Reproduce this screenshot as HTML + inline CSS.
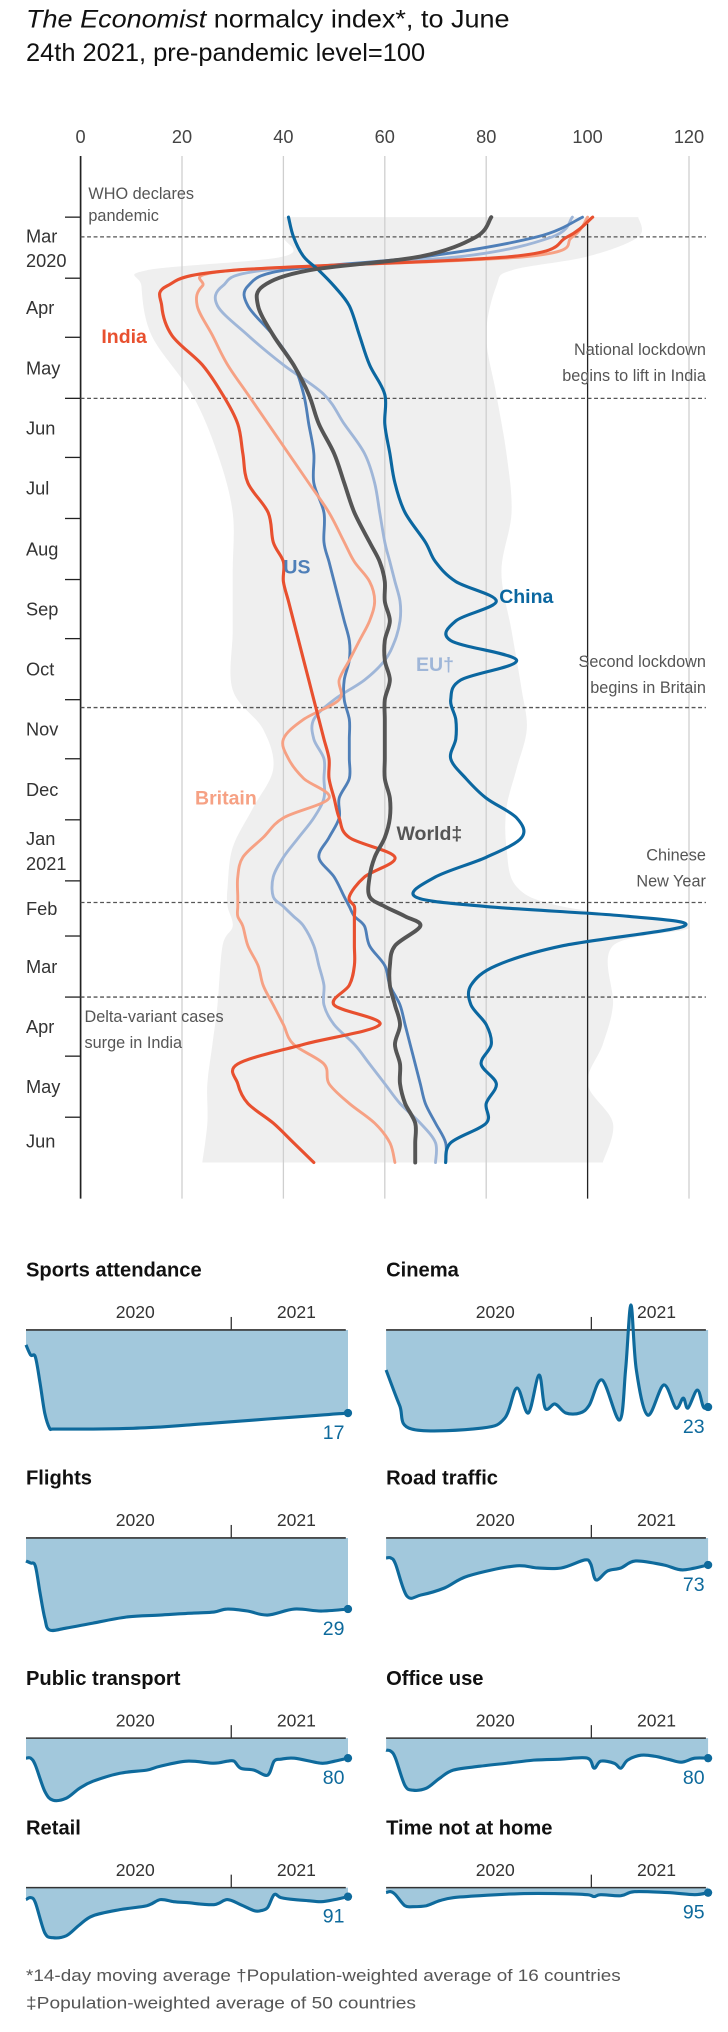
<!DOCTYPE html>
<html><head><meta charset="utf-8"><style>
html,body{margin:0;padding:0;background:#fff;}
svg{display:block;font-family:"Liberation Sans",sans-serif;}
</style></head><body>
<svg id="c" width="728" height="2032" viewBox="0 0 560 1563" xmlns="http://www.w3.org/2000/svg">
<g font-size="19.5" fill="#111">
<text x="20" y="21" textLength="372" lengthAdjust="spacingAndGlyphs"><tspan font-style="italic">The Economist</tspan> normalcy index*, to June</text>
<text x="20" y="47" textLength="307" lengthAdjust="spacingAndGlyphs">24th 2021, pre-pandemic level=100</text>
</g>
<g id="main"></g>
<g id="small"></g>
<g font-size="12.5" fill="#555">
<text x="20" y="1524" textLength="610" lengthAdjust="spacingAndGlyphs" transform="scale(0.75,1) translate(6.7,0)">*14-day moving average †Population-weighted average of 16 countries</text>
<text x="20" y="1545" textLength="400" lengthAdjust="spacingAndGlyphs" transform="scale(0.75,1) translate(6.7,0)">‡Population-weighted average of 50 countries</text>
</g>
</svg>
<script>
// ---- main chart data (days since Mar 1 2020) ----
const days=[0,10,20,27,35,45,60,75,90,105,120,135,150,165,175,185,195,205,215,225,235,245,255,265,275,285,295,305,315,325,335,345,350,355,360,370,380,390,400,410,420,430,440,450,460,470,480];
const china=[41,42,44,47,50,53,55,57,60,60,61,62,64,68,70,74,82,74,73,86,75,73,74,74,73,76,80,86,87,80,70,66,80,108,119,95,82,77,77,80,81,79,82,80,80,73,72];
const world=[81,78,67,45,36,35,38,42,45,47,50,52,54,57,59,60,60,61,60,60,61,60,60,60,60,60,61,61,60,58,57,57,60,64,67,62,61,61,62,63,62,63,63,64,66,66,66];
const india=[101,96,85,30,17,16,18,24,28,31,32,33,37,38,40,40,41,42,43,44,45,46,47,48,49,49,50,51,53,62,56,53,54,54,54,54,54,53,50,59,44,31,31,33,38,42,46];
const britain=[100,97,88,30,24,23,26,29,33,37,41,45,49,52,54,57,58,57,55,53,51,51,44,40,41,44,49,40,36,32,31,31,31,31,32,33,35,36,38,40,42,48,49,53,58,61,62];
const us=[99,90,68,40,33,33,38,42,44,45,46,46,48,48,49,50,51,52,53,53,52,52,53,53,53,53,51,51,49,47,50,52,53,54,56,57,60,61,63,64,65,66,67,68,70,72,72];
const eu=[97,93,75,36,28,27,33,40,48,52,56,58,59,60,61,62,63,63,62,60,56,50,46,46,48,48,48,46,43,40,38,38,40,42,44,46,47,48,48,50,54,57,60,63,67,70,70];
const bandDays=[0,10,20,27,35,60,90,120,150,180,210,240,260,280,300,320,340,350,360,370,400,420,440,460,480];
const bandLow=[40,40,40,13,12,14,22,27,30,30,30,30,36,38,34,30,29,29,30,28,27,26,25,25,24];
const bandHigh=[110,110,100,85,82,80,82,84,85,83,85,87,88,86,84,84,86,95,120,105,105,103,100,105,103];
const xTicks=[0,20,40,60,80,100,120];
const months=["Mar","Apr","May","Jun","Jul","Aug","Sep","Oct","Nov","Dec","Jan","Feb","Mar","Apr","May","Jun"];
const monthStart=[0,31,61,92,122,153,184,214,245,275,306,337,365,396,426,457];
const eventDays=[10,92,249,348,396];

const NS="http://www.w3.org/2000/svg";
function X(v){return 62+v*3.9;}
function Y(d){return 167+d*1.515;}
function mk(tag,parent,attrs){const e=document.createElementNS(NS,tag);for(const k in attrs)e.setAttribute(k,attrs[k]);parent.appendChild(e);return e;}
function smooth(pts){
 let p="M"+pts[0][0].toFixed(1)+","+pts[0][1].toFixed(1);
 for(let i=0;i<pts.length-1;i++){
  const p0=pts[Math.max(0,i-1)],p1=pts[i],p2=pts[i+1],p3=pts[Math.min(pts.length-1,i+2)];
  const c1=[p1[0]+(p2[0]-p0[0])/6,p1[1]+(p2[1]-p0[1])/6];
  const c2=[p2[0]-(p3[0]-p1[0])/6,p2[1]-(p3[1]-p1[1])/6];
  p+="C"+c1[0].toFixed(1)+","+c1[1].toFixed(1)+" "+c2[0].toFixed(1)+","+c2[1].toFixed(1)+" "+p2[0].toFixed(1)+","+p2[1].toFixed(1);
 }
 return p;
}
const main=document.getElementById('main');

// band
const hiPts=bandDays.map((d,i)=>[X(bandHigh[i]),Y(d)]);
const loPts=bandDays.map((d,i)=>[X(bandLow[i]),Y(d)]).reverse();
let bp=smooth(hiPts)+"L"+smooth(loPts).slice(1)+"Z";
const band=mk('path',main,{d:bp,fill:"#efefef"});



xTicks.forEach(v=>{
 const l=mk('line',main,{x1:X(v),x2:X(v),y1:v===100?172:120,y2:922,stroke:v===0||v===100?"#222":"#cfcfcf","stroke-width":v===0?1.3:1});
 
 
 const t=mk('text',main,{x:X(v),y:110,"text-anchor":"middle","font-size":14,fill:"#444"});
 t.textContent=v;
 
 
});
monthStart.forEach((d,i)=>{
 const tk=mk('line',main,{x1:50,x2:62,y1:Y(d),y2:Y(d),stroke:"#222","stroke-width":1});
 
 
 const mid=i<15?(d+monthStart[i+1])/2:d+12;
 const t=mk('text',main,{x:20,y:Y(mid)+(i===0||i===10?-4:5),"font-size":14,fill:"#333"});
 t.textContent=months[i];
 
 
 if(i===0||i===10){const y2=mk('text',main,{x:20,y:Y(mid)+15,"font-size":14,fill:"#333"});y2.textContent=i===0?"2020":"2021";
 
 }
});
eventDays.forEach(d=>{
 const l=mk('line',main,{x1:62,x2:543,y1:Y(d),y2:Y(d),stroke:"#555","stroke-width":1,"stroke-dasharray":"3,2"});
 
 
});
function line(vals,color,name,w){
 const pts=vals.map((v,i)=>[X(v),Y(days[i])]);
 const e=mk('path',main,{d:smooth(pts),fill:"none",stroke:color,"stroke-width":w,"stroke-linejoin":"round","stroke-linecap":"round"});
 
 
}
line(eu,"#9fb6d8","eu-line",2.2);
line(us,"#4f7fb8","us-line",2.2);
line(britain,"#f6a184","britain-line",2.2);
line(india,"#e8502f","india-line",2.4);
line(china,"#0b67a0","china-line",2.4);
line(world,"#555555","world-line",3);

function txt(parent,x,y,s,attrs,name){const t=mk('text',parent,attrs);t.setAttribute('x',x);t.setAttribute('y',y);t.textContent=s;
 
 return t;}
const an={"font-size":12.5,fill:"#555"};
txt(main,68,153,"WHO declares",an,'annotation-who');
txt(main,68,170,"pandemic",an,'annotation-who');
const ar=Object.assign({"text-anchor":"end"},an);
txt(main,543,273,"National lockdown",ar,'annotation-india-lockdown');
txt(main,543,293,"begins to lift in India",ar,'annotation-india-lockdown');
txt(main,543,513,"Second lockdown",ar,'annotation-britain-lockdown');
txt(main,543,533,"begins in Britain",ar,'annotation-britain-lockdown');
txt(main,543,662,"Chinese",ar,'annotation-cny');
txt(main,543,682,"New Year",ar,'annotation-cny');
txt(main,65,786,"Delta-variant cases",an,'annotation-delta');
txt(main,65,806,"surge in India",an,'annotation-delta');
txt(main,78,264,"India",{"font-size":15,"font-weight":"bold",fill:"#e8502f"},'india-label');
txt(main,218,441,"US",{"font-size":15,"font-weight":"bold",fill:"#4f7fb8"},'us-label');
txt(main,384,464,"China",{"font-size":15,"font-weight":"bold",fill:"#0b67a0"},'china-label');
txt(main,320,516,"EU†",{"font-size":15,"font-weight":"bold",fill:"#9fb6d8"},'eu-label');
txt(main,150,619,"Britain",{"font-size":15,"font-weight":"bold",fill:"#f6a184"},'britain-label');
txt(main,305,646,"World‡",{"font-size":15,"font-weight":"bold",fill:"#555"},'world-label');

// ---- small multiples data ----
const sportsDays=[0,7,14,21,28,35,40,60,100,150,200,240,280,320,360,400,440,480];
const sportsVals=[85,75,73,47,17,2,1,1,1,1.5,3,5,7,9,11,13,15,17];
const cinemaDays=[0,20,38,143,177,195,212,228,237,252,268,289,303,322,348,357,365,373,390,414,432,443,450,464,473,480];
const cinemaVals=[60,25,1,2,12,42,17,55,22,26,17,17,25,50,10,60,125,60,15,45,22,32,22,40,23,23];
const flightsDays=[0,7,14,21,28,35,60,100,150,200,250,280,300,330,360,400,440,480];
const flightsVals=[77,75,72,45,20,8,10,15,21,23,25,26,29,27,23,29,27,29];
const roadDays=[0,7,14,31,52,87,122,191,226,261,296,305,313,330,350,372,414,442,480];
const roadVals=[80,80,74,42,43,50,62,72,70,70,78,74,58,67,70,77,73,68,73];
const transitDays=[0,7,14,28,40,60,80,100,140,180,200,240,280,300,310,320,340,360,370,380,400,440,460,480];
const transitVals=[80,80,73,47,38,40,50,57,65,68,72,77,75,77,77,70,68,63,77,79,80,75,77,80];
const officeDays=[0,7,14,28,40,60,80,100,140,180,220,260,300,310,320,340,350,360,380,400,420,440,460,480];
const officeVals=[88,87,80,53,48,50,60,68,72,75,78,79,80,70,77,75,70,78,83,82,79,76,80,80];
const retailDays=[0,7,14,28,40,60,80,100,140,180,200,220,240,280,300,320,340,350,360,370,380,400,420,440,460,480];
const retailVals=[88,90,85,55,50,52,63,72,78,82,88,86,85,83,88,83,77,77,80,93,90,88,87,86,88,91];
const homeDays=[0,7,14,28,40,60,80,100,140,200,260,300,310,320,350,370,420,460,480];
const homeVals=[95,96,93,82,81,82,87,90,92,94,94,93,91,93,92,96,95,93,95];

const small=document.getElementById('small');
function panel(title,px,axisY,dArr,vArr,label,key){
 const g=mk('g',small,{});
 
 
 const sx=d=>px+d*0.516, sy=v=>axisY+(100-v)*0.77;
 txt(g,px,axisY-41,title,{"font-size":15.5,"font-weight":"bold",fill:"#111"},key+'-title');
 txt(g,px+84,axisY-9,"2020",{"font-size":13.5,fill:"#333","text-anchor":"middle"},key+'-year-2020');
 txt(g,px+208,axisY-9,"2021",{"font-size":13.5,fill:"#333","text-anchor":"middle"},key+'-year-2021');
 const pts=dArr.map((d,i)=>[sx(d),sy(vArr[i])]);
 const p=smooth(pts);
 const a=mk('path',g,{d:"M"+sx(0)+","+axisY+"L"+p.slice(1)+"L"+sx(480)+","+axisY+"Z",fill:"#a2c8dc"});
 
 
 const ax=mk('line',g,{x1:px,x2:px+246,y1:axisY,y2:axisY,stroke:"#333","stroke-width":1.2});
 
 
 const tk=mk('line',g,{x1:sx(306),x2:sx(306),y1:axisY-10,y2:axisY,stroke:"#333","stroke-width":1});
 
 
 const l=mk('path',g,{d:p,fill:"none",stroke:"#0e6a9c","stroke-width":2.4,"stroke-linejoin":"round"});
 
 
 const last=vArr[vArr.length-1];
 const c=mk('circle',g,{cx:sx(480),cy:sy(last),r:3.2,fill:"#0e6a9c"});
 
 
 txt(g,px+245,sy(last)+20,label,{"font-size":15,fill:"#0e6a9c","text-anchor":"end"},key+'-value');
}
panel("Sports attendance",20,1023,sportsDays,sportsVals,"17","sports");
panel("Cinema",297,1023,cinemaDays,cinemaVals,"23","cinema");
panel("Flights",20,1183,flightsDays,flightsVals,"29","flights");
panel("Road traffic",297,1183,roadDays,roadVals,"73","road");
panel("Public transport",20,1337,transitDays,transitVals,"80","transit");
panel("Office use",297,1337,officeDays,officeVals,"80","office");
panel("Retail",20,1452,retailDays,retailVals,"91","retail");
panel("Time not at home",297,1452,homeDays,homeVals,"95","home");
</script>
</body></html>
